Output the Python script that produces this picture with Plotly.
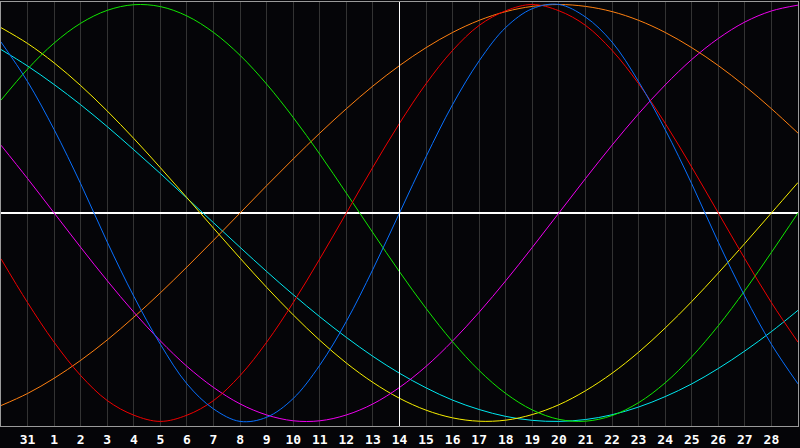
import plotly.graph_objects as go

# day index 0..30 along the x axis (Jan 30 .. Mar 1), labels on the inner grid lines
days = list(range(31))
tick_pos = list(range(1, 30))
tick_text = ["31"] + [str(d) for d in range(1, 29)]

# biorhythm values, one per day
physical = [0.82, 0.63, 0.40, 0.14, -0.14, -0.40, -0.63, -0.82, -0.94, -1.00, -0.98,
            -0.89, -0.73, -0.52, -0.27, 0.00, 0.27, 0.52, 0.73, 0.89, 0.98, 1.00,
            0.94, 0.82, 0.63, 0.40, 0.14, -0.14, -0.40, -0.63, -0.82]
emotional = [-0.22, -0.43, -0.62, -0.78, -0.90, -0.97, -1.00, -0.97, -0.90, -0.78, -0.62,
             -0.43, -0.22, 0.00, 0.22, 0.43, 0.62, 0.78, 0.90, 0.97, 1.00, 0.97,
             0.90, 0.78, 0.62, 0.43, 0.22, 0.00, -0.22, -0.43, -0.62]
intellectual = [0.541, 0.690, 0.815, 0.910, 0.972, 0.999, 0.990, 0.945, 0.866, 0.756, 0.618,
                0.458, 0.282, 0.095, -0.095, -0.282, -0.458, -0.618, -0.756, -0.866, -0.945,
                -0.990, -0.999, -0.972, -0.910, -0.815, -0.690, -0.541, -0.372, -0.189, 0.00]
intuitive = [0.325, 0.165, 0.00, -0.165, -0.325, -0.476, -0.614, -0.736, -0.837, -0.916,
             -0.969, -0.997, -0.997, -0.969, -0.916, -0.837, -0.736, -0.614, -0.476, -0.325,
             -0.165, 0.00, 0.165, 0.325, 0.476, 0.614, 0.736, 0.837, 0.916, 0.969, 0.997]
aesthetic = [0.889, 0.813, 0.720, 0.611, 0.489, 0.357, 0.217, 0.073, -0.073, -0.217, -0.357,
             -0.489, -0.611, -0.720, -0.813, -0.889, -0.946, -0.983, -0.999, -0.994, -0.967,
             -0.920, -0.853, -0.769, -0.668, -0.552, -0.425, -0.288, -0.146, 0.00, 0.146]
awareness = [-0.924, -0.866, -0.793, -0.707, -0.609, -0.500, -0.383, -0.259, -0.131, 0.00,
             0.131, 0.259, 0.383, 0.500, 0.609, 0.707, 0.793, 0.866, 0.924, 0.966, 0.991,
             1.00, 0.991, 0.966, 0.924, 0.866, 0.793, 0.707, 0.609, 0.500, 0.383]
spiritual = [0.784, 0.705, 0.616, 0.519, 0.414, 0.303, 0.189, 0.071, -0.047, -0.165, -0.281,
             -0.392, -0.498, -0.597, -0.688, -0.769, -0.839, -0.898, -0.943, -0.976, -0.995,
             -1.00, -0.991, -0.968, -0.931, -0.881, -0.820, -0.746, -0.662, -0.569, -0.467]

today = 15

series = [
    ("Spiritual", spiritual, "#00e8f0"),
    ("Awareness", awareness, "#ff8010"),
    ("Aesthetic", aesthetic, "#f8f000"),
    ("Intuitive", intuitive, "#f000f0"),
    ("Intellectual", intellectual, "#10e800"),
    ("Emotional", emotional, "#f00000"),
    ("Physical", physical, "#0870ff"),
]

fig = go.Figure()
for name, vals, col in series:
    fig.add_trace(go.Scatter(
        x=days, y=vals, name=name, mode="lines",
        line=dict(color=col, width=1, shape="spline", smoothing=1.0),
    ))

# today marker
fig.add_shape(type="line", x0=today, x1=today, y0=0, y1=1, yref="paper",
              line=dict(color="white", width=1))

fig.update_layout(
    width=800, height=448,
    margin=dict(l=1, r=1, t=1, b=19),
    paper_bgcolor="#050508",
    plot_bgcolor="#050508",
    showlegend=False,
    xaxis=dict(
        range=[0, 30], tickmode="array", tickvals=tick_pos, ticktext=tick_text,
        showgrid=True, gridcolor="#333333", gridwidth=1, zeroline=False,
        showline=True, mirror=True, linecolor="#9a9a9a", linewidth=1,
        ticks="", ticklabelstandoff=1,
        tickfont=dict(family="DejaVu Sans Mono", size=13, color="white", weight="bold"),
    ),
    yaxis=dict(
        range=[-1.022, 1.012], showgrid=False, showticklabels=False,
        zeroline=True, zerolinecolor="white", zerolinewidth=1.5,
        showline=True, mirror=True, linecolor="#9a9a9a", linewidth=1,
    ),
)

fig.write_html("out.html", config={"displayModeBar": False}, post_script=(
    "document.body.style.margin='0';"
    "document.body.style.background='#050508';"
    "document.body.style.overflow='hidden';"
))
